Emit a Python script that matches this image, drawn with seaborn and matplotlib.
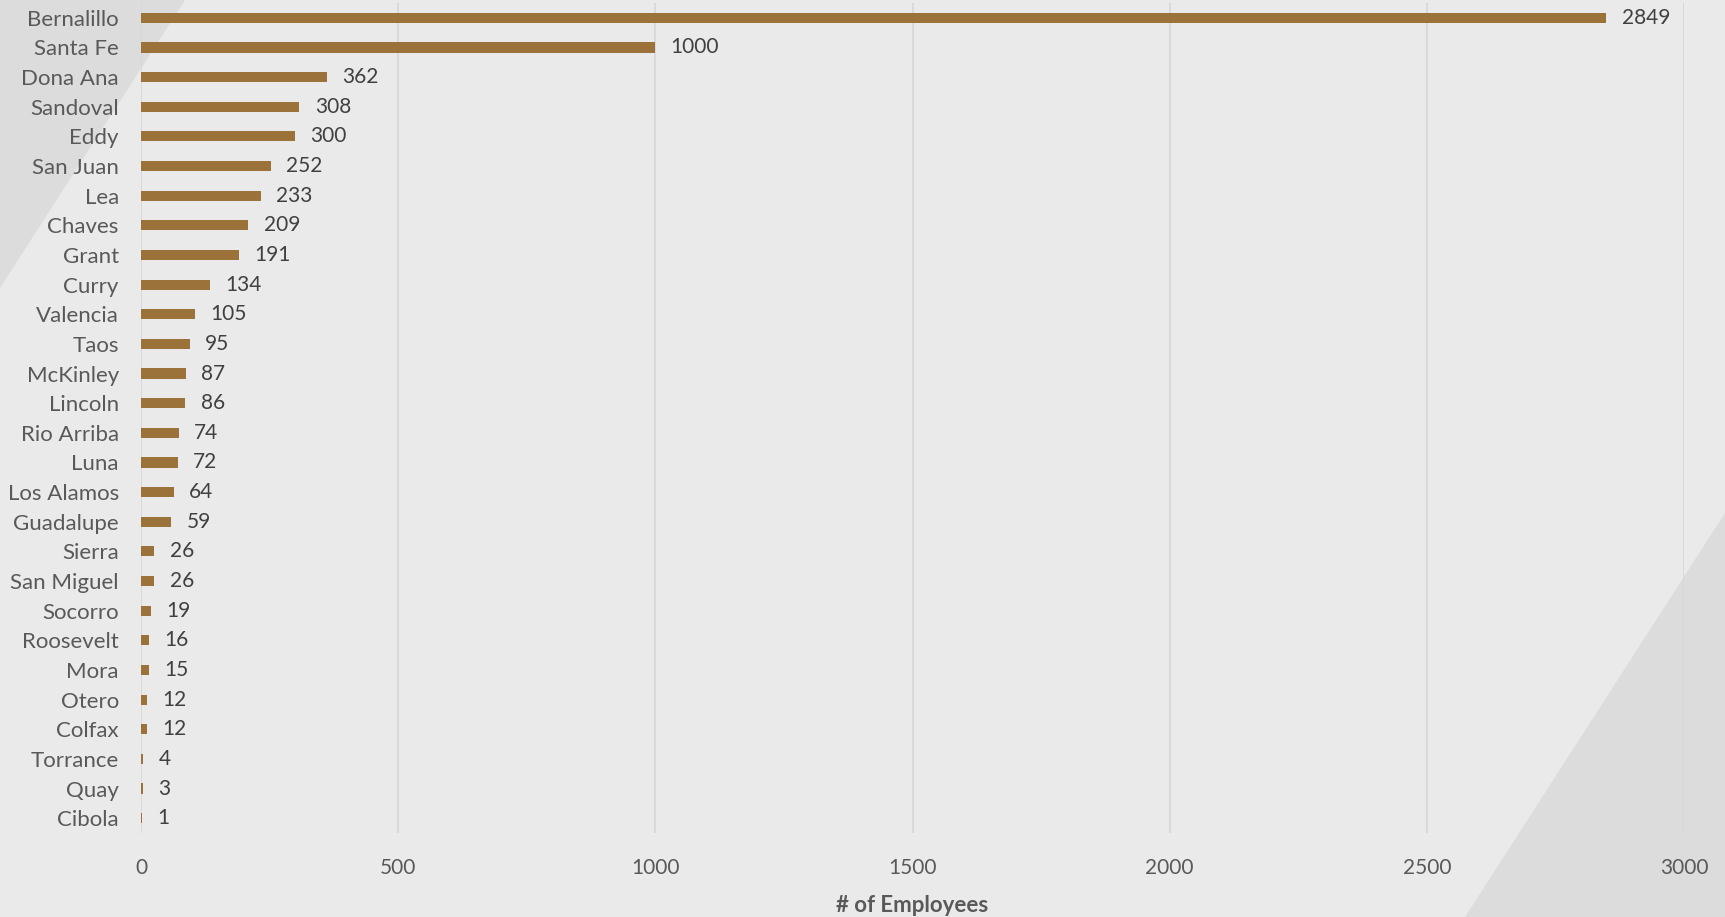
import matplotlib
matplotlib.use("Agg")
import matplotlib.pyplot as plt
import seaborn as sns
import pandas as pd
from matplotlib.patches import Polygon

counties = ["Bernalillo", "Santa Fe", "Dona Ana", "Sandoval", "Eddy", "San Juan", "Lea",
            "Chaves", "Grant", "Curry", "Valencia", "Taos", "McKinley", "Lincoln",
            "Rio Arriba", "Luna", "Los Alamos", "Guadalupe", "Sierra", "San Miguel",
            "Socorro", "Roosevelt", "Mora", "Otero", "Colfax", "Torrance", "Quay", "Cibola"]
employees = [2849, 1000, 362, 308, 300, 252, 233, 209, 191, 134, 105, 95, 87, 86,
             74, 72, 64, 59, 26, 26, 19, 16, 15, 12, 12, 4, 3, 1]
xticks = [0, 500, 1000, 1500, 2000, 2500, 3000]

df = pd.DataFrame({"County": counties, "Employees": employees})

sns.set_theme(style="white")
plt.rcParams["font.family"] = ["Lato", "DejaVu Sans"]

W, H = 1725, 917
fig = plt.figure(figsize=(W / 100, H / 100), dpi=100)
fig.patch.set_facecolor("#EAEAEA")

# decorative background triangles
tri_color = "#DCDCDC"
fig.patches.append(Polygon([(0, 1), (185 / W, 1), (0, 1 - 288 / H)], closed=True,
                           transform=fig.transFigure, facecolor=tri_color,
                           edgecolor="none", zorder=-10))
fig.patches.append(Polygon([(1, 1 - 513 / H), (1, 0), (1465 / W, 0)], closed=True,
                           transform=fig.transFigure, facecolor=tri_color,
                           edgecolor="none", zorder=-10))

ax = fig.add_axes([141 / W, 1 - 833 / H, (1684 - 141) / W, (833 - 3) / H])
ax.set_zorder(5)
ax.set_facecolor("none")

sns.barplot(data=df, x="Employees", y="County", orient="h", color="#9B723A",
            width=0.34, saturation=1, edgecolor="none", linewidth=0, ax=ax, zorder=3)

ax.set_xlim(0, 3000)
ax.set_xticks(xticks)
ax.set_xticklabels([str(t) for t in xticks])
ax.grid(axis="x", color="#D6D6D6", linewidth=1.2, zorder=0)
ax.grid(axis="y", visible=False)
for s in ax.spines.values():
    s.set_visible(False)
ax.tick_params(axis="both", length=0, labelcolor="#595959")
ax.tick_params(axis="x", pad=18, labelsize=15)
ax.tick_params(axis="y", pad=16, labelsize=16)

ax.set_ylabel("")
ax.set_xlabel("# of Employees", fontsize=16, fontweight="bold", color="#595959", labelpad=12)

for i, v in enumerate(employees):
    ax.annotate(str(v), xy=(v, i), xytext=(11, 0), textcoords="offset points",
                va="center", ha="left", fontsize=15, color="#404040")

fig.savefig("out.png", dpi=100, facecolor=fig.get_facecolor())
